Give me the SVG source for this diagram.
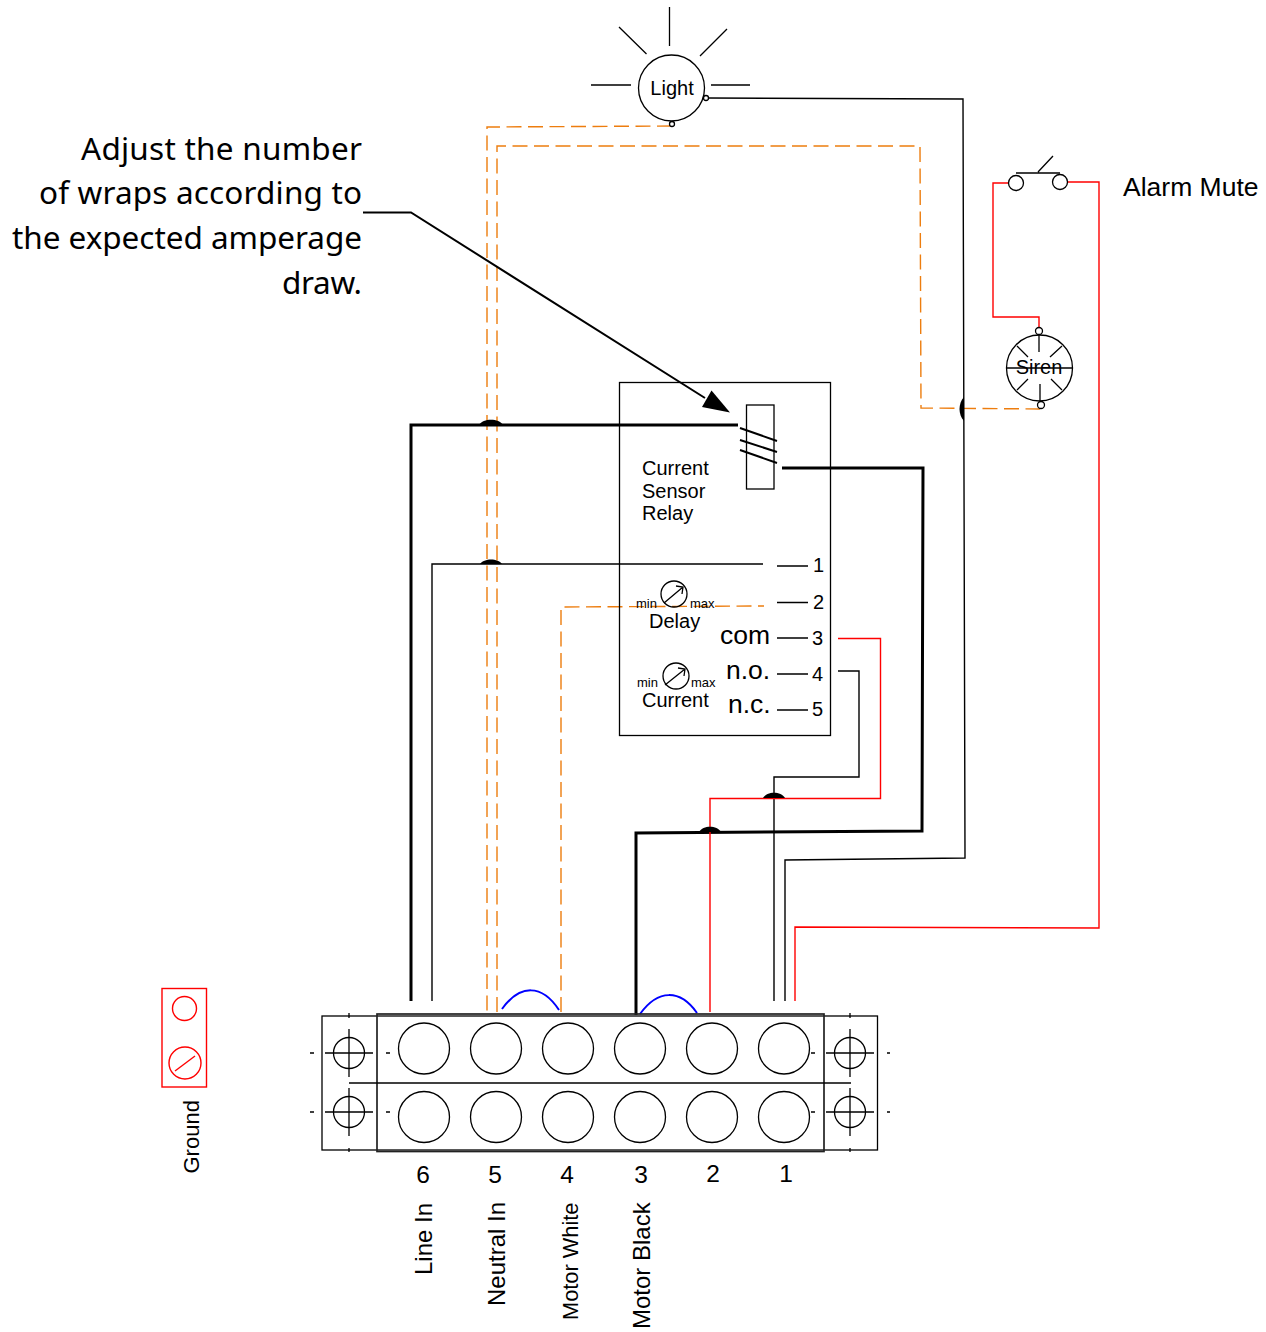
<svg xmlns="http://www.w3.org/2000/svg" width="1266" height="1332" viewBox="0 0 1266 1332">
<style>
text{font-family:"Liberation Sans",Arial,sans-serif;fill:#000}
.hand{font-family:"Noto Sans",sans-serif;font-size:31.500px}
.l{fill:none;stroke:#000;stroke-width:1.3}
.w{fill:none;stroke:#000;stroke-width:1.4}
.t{fill:none;stroke:#000;stroke-width:3}
.r{fill:none;stroke:#f00;stroke-width:1.4}
.o{fill:none;stroke:#ed7d0e;stroke-width:1.4;stroke-dasharray:15 6.500}
.b{fill:none;stroke:#00f;stroke-width:2}
.c{fill:#fff;stroke:#000;stroke-width:1.3}
.hop{fill:#000}
.s20{font-size:20px}.s26{font-size:26px}.s13{font-size:13px}.s24{font-size:24.500px}.v24{font-size:24px}
</style>
<g id="connectors">
<path class="o" d="M672 126L487 127V1012"/>
<path class="o" d="M497 1012V146H920L921 408L1040 409"/>
<path class="o" d="M561 1012V607L764 606"/>
<path class="w" d="M708 98L963 99L965 858L785 860V1001"/>
<path class="t" d="M411 1001V425H738"/>
<path class="t" d="M782 468H923L922 831L636 833V1015"/>
<path class="w" d="M432 1001V564H763"/>
<path class="w" d="M838 671H859V777H774V1001"/>
<path class="r" d="M838 638.500H880.500V798.500H710V1012"/>
<path class="r" d="M1009 183H993V317H1039V327"/>
<path class="r" d="M1068 182H1099V928L795 927V1001"/>
<path class="b" d="M502 1009C520 984 542 984 559 1010"/>
<path class="b" d="M640 1014C658 989 680 989 697 1013"/>
<path class="hop" d="M479 425C483 418 499 418 503 425Z"/>
<path class="hop" d="M480 564C484 558 498 558 502 564Z"/>
<path class="hop" d="M763 798C767 791 781 791 785 798Z"/>
<path class="hop" d="M699 832C703 825 717 825 721 832Z"/>
<path class="hop" d="M964 397C958 403 958 415 964 421Z"/>
<path fill="none" stroke="#000" stroke-width="2" d="M363 212.500H411L705 398"/>
<polygon class="hop" points="730,412.500 711.500,390.500 702,407"/>
</g>
<g id="callout">
<text class="hand" x="81" y="160" textLength="281">Adjust the number</text>
<text class="hand" x="39" y="204" textLength="323">of wraps according to</text>
<text class="hand" x="12" y="249" textLength="350">the expected amperage</text>
<text class="hand" x="282" y="294" textLength="80">draw.</text>
</g>
<g id="light">
<circle class="l" cx="671.500" cy="88" r="33"/>
<path class="l" d="M669.500 7V46M619 27L646.500 54M727 29L700 56M591 85H631M711 85H750"/>
<circle class="c" cx="706" cy="98" r="2.500"/>
<circle class="c" cx="672" cy="124" r="2.500"/>
<text class="s20" x="672" y="95" text-anchor="middle">Light</text>
</g>
<g id="alarm-mute">
<path class="l" d="M1016 173H1060M1038 172L1053 156"/>
<circle class="c" cx="1016" cy="183" r="7.500"/>
<circle class="c" cx="1060" cy="182" r="7.500"/>
<text font-size="26.500" x="1123" y="196">Alarm Mute</text>
</g>
<g id="siren">
<circle class="l" cx="1039.500" cy="368" r="33"/>
<path class="l" d="M1039 335V352M1040 384V402M1007 368H1072M1017 346L1028 357M1062 346L1050 357M1017 390L1028 379M1062 390L1051 379"/>
<circle class="c" cx="1039" cy="331" r="3.500"/>
<circle class="c" cx="1041" cy="405" r="3.500"/>
<text class="s20" x="1039" y="374" text-anchor="middle">Siren</text>
</g>
<g id="relay">
<rect class="l" x="619.500" y="382.500" width="211" height="353"/>
<rect class="l" x="746.500" y="405" width="27.500" height="84"/>
<path fill="none" stroke="#000" stroke-width="2" d="M740 428L777 441M740 440L777 452M740 450L777 463"/>
<text class="s20" x="642" y="475">Current</text>
<text class="s20" x="642" y="498">Sensor</text>
<text class="s20" x="642" y="520">Relay</text>
<path class="l" d="M777 566H808M777 602.500H808M777 638H808M777 674H808M777 710H808"/>
<text class="s20" x="813" y="572">1</text>
<text class="s20" x="813" y="609">2</text>
<text class="s20" x="812" y="645">3</text>
<text class="s20" x="812" y="681">4</text>
<text class="s20" x="812" y="716">5</text>
<text font-size="26.500" x="720" y="644">com</text>
<text font-size="26.500" x="726" y="679">n.o.</text>
<text font-size="26.500" x="728" y="713">n.c.</text>
<circle class="l" cx="674" cy="594" r="13"/>
<path class="l" d="M664 603L683 587M676 586L683 587L682 594"/>
<circle class="l" cx="676" cy="676" r="13"/>
<path class="l" d="M665 685L685 669M678 668L685 669L684 676"/>
<text class="s13" x="636" y="608">min</text>
<text class="s13" x="690" y="608">max</text>
<text class="s13" x="637" y="687">min</text>
<text class="s13" x="691" y="687">max</text>
<text class="s20" x="649" y="628">Delay</text>
<text class="s20" x="642" y="707">Current</text>
</g>
<g id="terminal-block">
<rect x="322" y="1016" width="555.500" height="134" fill="none" stroke="#000" stroke-width="1.300"/>
<rect x="377" y="1014" width="447" height="137.500" fill="none" stroke="#222" stroke-width="1.700"/>
<path class="l" d="M349 1083H851"/>
<circle class="l" cx="424" cy="1048.500" r="25.500"/><circle class="l" cx="496" cy="1048.500" r="25.500"/><circle class="l" cx="568" cy="1048.500" r="25.500"/><circle class="l" cx="640" cy="1048.500" r="25.500"/><circle class="l" cx="712" cy="1048.500" r="25.500"/><circle class="l" cx="784" cy="1048.500" r="25.500"/>
<circle class="l" cx="424" cy="1117" r="25.500"/><circle class="l" cx="496" cy="1117" r="25.500"/><circle class="l" cx="568" cy="1117" r="25.500"/><circle class="l" cx="640" cy="1117" r="25.500"/><circle class="l" cx="712" cy="1117" r="25.500"/><circle class="l" cx="784" cy="1117" r="25.500"/>
<circle class="l" cx="349" cy="1053" r="15.500"/><circle class="l" cx="349" cy="1112" r="15.500"/><circle class="l" cx="850" cy="1053" r="15.500"/><circle class="l" cx="850" cy="1112" r="15.500"/>
<path class="l" d="M325 1053H373M349 1029V1077M325 1112H373M349 1088V1136M826 1053H874M850 1029V1077M826 1112H874M850 1088V1136M349 1013V1018M349 1148V1152M850 1013V1018M850 1148V1152M310 1053H314M386 1053H390M310 1112H314M386 1112H390M811 1053H815M887 1053H890M811 1112H815M887 1112H890"/>
<text class="s24" x="423" y="1182.500" text-anchor="middle">6</text>
<text class="s24" x="495" y="1182.500" text-anchor="middle">5</text>
<text class="s24" x="567" y="1182.500" text-anchor="middle">4</text>
<text class="s24" x="641" y="1182.500" text-anchor="middle">3</text>
<text class="s24" x="713" y="1181.500" text-anchor="middle">2</text>
<text class="s24" x="786" y="1181.500" text-anchor="middle">1</text>
<text class="v24" transform="translate(431.500 1275) rotate(-90)">Line In</text>
<text class="v24" transform="translate(504.500 1306) rotate(-90)">Neutral In</text>
<text font-size="21.800" transform="translate(578 1320) rotate(-90)">Motor White</text>
<text class="v24" transform="translate(650 1329) rotate(-90)">Motor Black</text>
</g>
<g id="ground">
<rect class="r" x="162" y="988.500" width="44.500" height="98.500"/>
<circle class="r" cx="184.500" cy="1008.500" r="12"/>
<circle class="r" cx="185" cy="1063" r="16"/>
<path class="r" d="M175 1071L195 1056"/>
<text font-size="22" transform="translate(199 1173.500) rotate(-90)">Ground</text>
</g>
</svg>
